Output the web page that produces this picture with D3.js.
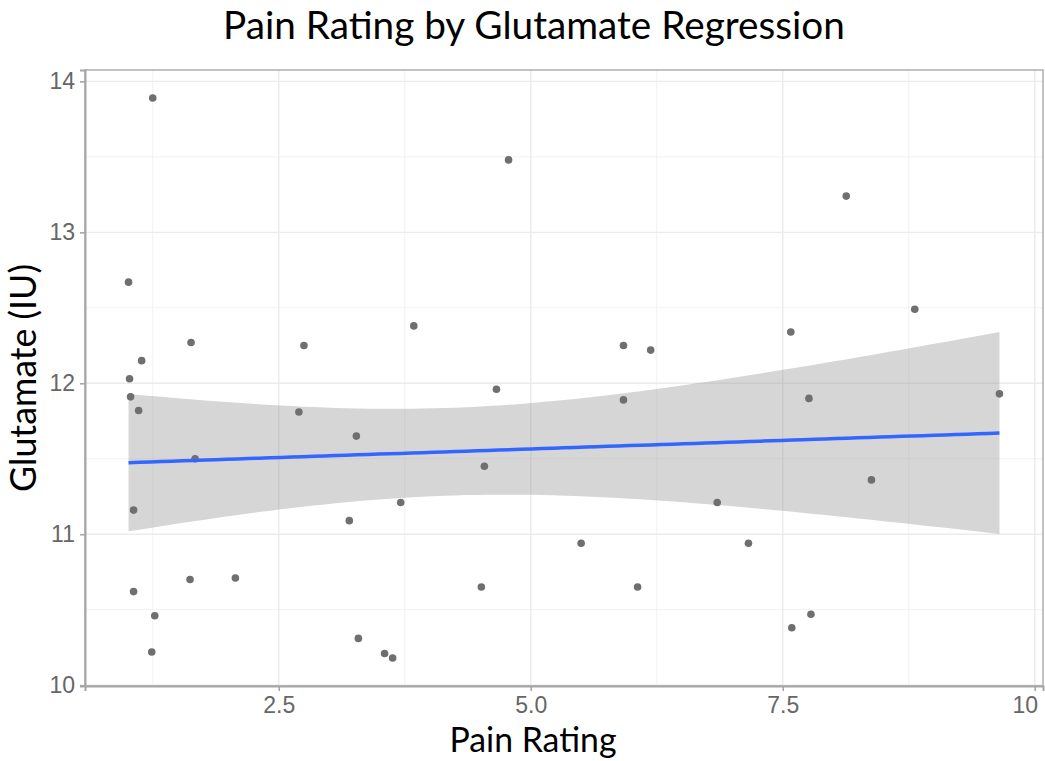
<!DOCTYPE html>
<html>
<head>
<meta charset="utf-8">
<script src="https://cdn.jsdelivr.net/npm/d3@7"></script>
<style>
  body { margin: 0; background: #fff; }
  svg { display: block; }
</style>
</head>
<body>
<svg id="chart" width="1045" height="761"></svg>
<script>
// pain rating (x) and glutamate (y)
let painRating = [
  1.25, 1.01, 1.63, 2.75, 1.14, 1.02, 1.03, 1.11, 2.70, 1.67,
  1.06, 3.20, 1.06, 1.62, 2.07, 1.27, 1.24, 4.78, 3.84, 5.92,
  6.19, 4.66, 5.92, 3.27, 4.54, 3.71, 5.50, 4.51, 6.06, 3.29,
  3.55, 3.63, 8.13, 8.81, 7.58, 7.76, 9.65, 8.38, 6.85, 7.16,
  7.59, 7.78
];
let glutamate = [
  13.89, 12.67, 12.27, 12.25, 12.15, 12.03, 11.91, 11.82, 11.81, 11.50,
  11.16, 11.09, 10.62, 10.70, 10.71, 10.46, 10.22, 13.48, 12.38, 12.25,
  12.22, 11.96, 11.89, 11.65, 11.45, 11.21, 10.94, 10.65, 10.65, 10.31,
  10.21, 10.18, 13.24, 12.49, 12.34, 11.90, 11.93, 11.36, 11.21, 10.94,
  10.38, 10.47
];
let xTicks = [2.5, 5.0, 7.5, 10];
let xTickLabels = ["2.5", "5.0", "7.5", "10"];
let yTicks = [10, 11, 12, 13, 14];
let yTickLabels = ["10", "11", "12", "13", "14"];

let svg = d3.select("#chart");

let pLeft = 85, pRight = 1043, pTop = 70, pBottom = 686;
let labelFont = "Lato, 'Open Sans', sans-serif";
let tickFont = "'Liberation Sans', Arial, sans-serif";

function expand(ext) {
  let r = ext[1] - ext[0];
  return [ext[0] - 0.05 * r, ext[1] + 0.05 * r];
}

let x = d3.scaleLinear().domain(expand(d3.extent(painRating))).range([pLeft, pRight]);
let y = d3.scaleLinear().domain(expand(d3.extent(glutamate))).range([pBottom, pTop]);

let points = painRating.map((d, i) => ({ x: d, y: glutamate[i] }));

// linear fit + 95% confidence band, like geom_smooth(method = "lm")
let n = points.length;
let mx = d3.mean(points, d => d.x), my = d3.mean(points, d => d.y);
let sxx = d3.sum(points, d => (d.x - mx) ** 2);
let sxy = d3.sum(points, d => (d.x - mx) * (d.y - my));
let slope = sxy / sxx;
let icpt = my - slope * mx;
let s = Math.sqrt(d3.sum(points, d => (d.y - icpt - slope * d.x) ** 2) / (n - 2));
let tCrit = 2.021; // t(0.975, df = 40)
let [x0, x1] = d3.extent(painRating);
let fit = d3.range(81).map(k => {
  let xv = x0 + (x1 - x0) * k / 80;
  let yv = icpt + slope * xv;
  let se = s * Math.sqrt(1 / n + (xv - mx) ** 2 / sxx);
  return { x: xv, y: yv, lo: yv - tCrit * se, hi: yv + tCrit * se };
});

let panel = svg.append("g");

// grid
let xMinor = d3.range(1.25, 10.1, 2.5);
let yMinor = d3.range(10.5, 14, 1);
panel.selectAll("line.xminor").data(xMinor).enter().append("line")
  .attr("x1", d => x(d)).attr("x2", d => x(d))
  .attr("y1", pTop).attr("y2", pBottom)
  .attr("stroke", "#f2f2f2").attr("stroke-width", 1);
panel.selectAll("line.yminor").data(yMinor).enter().append("line")
  .attr("x1", pLeft).attr("x2", pRight)
  .attr("y1", d => y(d)).attr("y2", d => y(d))
  .attr("stroke", "#f2f2f2").attr("stroke-width", 1);
panel.selectAll("line.xmajor").data(xTicks).enter().append("line")
  .attr("x1", d => x(d)).attr("x2", d => x(d))
  .attr("y1", pTop).attr("y2", pBottom)
  .attr("stroke", "#ebebeb").attr("stroke-width", 1.4);
panel.selectAll("line.ymajor").data(yTicks).enter().append("line")
  .attr("x1", pLeft).attr("x2", pRight)
  .attr("y1", d => y(d)).attr("y2", d => y(d))
  .attr("stroke", "#ebebeb").attr("stroke-width", 1.4);

// ribbon
panel.append("path")
  .datum(fit)
  .attr("d", d3.area().x(d => x(d.x)).y0(d => y(d.lo)).y1(d => y(d.hi)))
  .attr("fill", "#999999")
  .attr("fill-opacity", 0.4);

// points
panel.selectAll("circle").data(points).enter().append("circle")
  .attr("cx", d => x(d.x))
  .attr("cy", d => y(d.y))
  .attr("r", 3.8)
  .attr("fill", "#6f6f6f");

// fitted line
panel.append("path")
  .datum(fit)
  .attr("d", d3.line().x(d => x(d.x)).y(d => y(d.y)))
  .attr("fill", "none")
  .attr("stroke", "#3366ff")
  .attr("stroke-width", 3.5);

// border
panel.append("rect")
  .attr("x", pLeft).attr("y", pTop)
  .attr("width", pRight - pLeft).attr("height", pBottom - pTop)
  .attr("fill", "none")
  .attr("stroke", "#b3b3b3")
  .attr("stroke-width", 1.6);

// axes
let xAxis = svg.append("g")
  .attr("transform", `translate(0,${pBottom})`)
  .call(d3.axisBottom(x).tickValues(xTicks).tickFormat((d, i) => xTickLabels[i]).tickSize(5).tickPadding(6));
let yAxis = svg.append("g")
  .attr("transform", `translate(${pLeft},0)`)
  .call(d3.axisLeft(y).tickValues(yTicks).tickFormat((d, i) => yTickLabels[i]).tickSize(5).tickPadding(5));

[xAxis, yAxis].forEach(a => {
  a.select(".domain").attr("stroke", "#a6a6a6").attr("stroke-width", 2);
  a.selectAll(".tick line").attr("stroke", "#a6a6a6").attr("stroke-width", 1.6);
  a.selectAll(".tick text")
    .attr("fill", "#666666")
    .style("font-family", tickFont)
    .style("font-size", "23px");
});
// last x label sits against the right edge
xAxis.selectAll(".tick text").filter(d => d === 10).attr("dx", -10);

// scale a label's font so it spans the wanted width
function fitWidth(sel, target) {
  let size = parseFloat(sel.style("font-size"));
  let w = sel.node().getComputedTextLength();
  sel.style("font-size", (size * target / w) + "px");
}

let title = svg.append("text")
  .text("Pain Rating by Glutamate Regression")
  .attr("x", 534).attr("y", 39)
  .attr("text-anchor", "middle")
  .attr("fill", "#000")
  .style("font-family", labelFont)
  .style("font-size", "34px");
fitWidth(title, 622);

let xTitle = svg.append("text")
  .text("Pain Rating")
  .attr("x", 533).attr("y", 752)
  .attr("text-anchor", "middle")
  .attr("fill", "#000")
  .style("font-family", labelFont)
  .style("font-size", "30px");
fitWidth(xTitle, 167);

let yTitle = svg.append("text")
  .text("Glutamate (IU)")
  .attr("transform", "translate(36,378) rotate(-90)")
  .attr("text-anchor", "middle")
  .attr("fill", "#000")
  .style("font-family", labelFont)
  .style("font-size", "26px");
fitWidth(yTitle, 228);
</script>
</body>
</html>
